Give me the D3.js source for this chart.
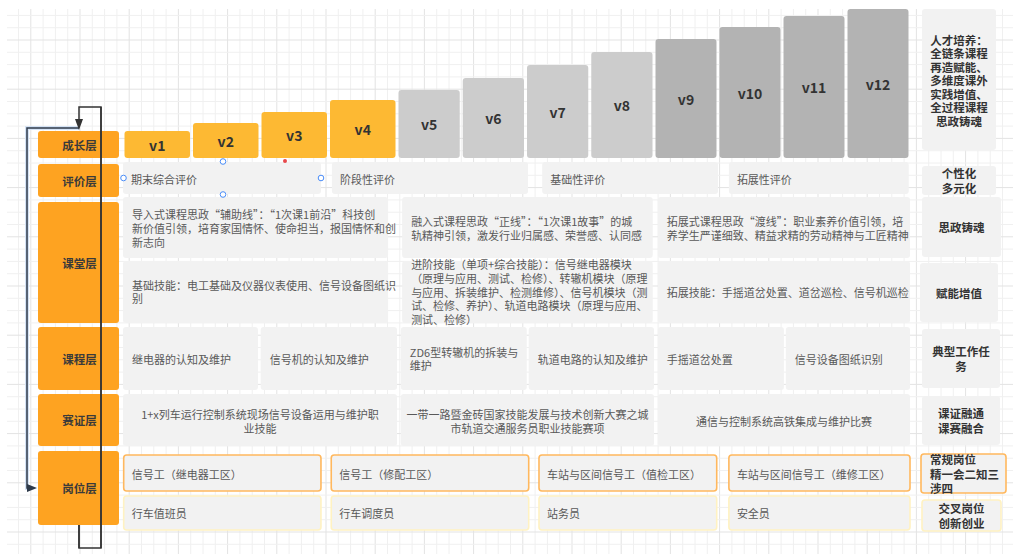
<!DOCTYPE html>
<html><head><meta charset="utf-8">
<script src="https://cdn.jsdelivr.net/npm/d3@7"></script>
<style>html,body{margin:0;padding:0;background:#fff;overflow:hidden}</style>
</head><body><svg id="c" width="1017" height="554"></svg>
<script>
// ---------------- data ----------------
const layerNames = ["成长层","评价层","课堂层","课程层","赛证层","岗位层"];
const growthLabels = ["v1","v2","v3","v4","v5","v6","v7","v8","v9","v10","v11","v12"];
const growthLevels = [27,35,46,58,68,80,93,106,119,131,142,149];
const growthTiers = [0,0,0,0,1,1,1,1,2,2,2,2];
const evaluationTexts = ["期末综合评价","阶段性评价","基础性评价","拓展性评价"];
const ideologyTexts = [
  "导入式课程思政“辅助线”：“1次课1前沿”科技创\n新价值引领，培育家国情怀、使命担当，报国情怀和创\n新志向",
  "融入式课程思政“正线”：“1次课1故事”的城\n轨精神引领，激发行业归属感、荣誉感、认同感",
  "拓展式课程思政“渡线”：职业素养价值引领，培\n养学生严谨细致、精益求精的劳动精神与工匠精神"
];
const skillTexts = [
  "基础技能：电工基础及仪器仪表使用、信号设备图纸识\n别",
  "进阶技能（单项+综合技能）：信号继电器模块\n（原理与应用、测试、检修）、转辙机模块（原理\n与应用、拆装维护、检测维修）、信号机模块（测\n试、检修、养护）、轨道电路模块（原理与应用、\n测试、检修）",
  "拓展技能：手摇道岔处置、道岔巡检、信号机巡检"
];
const courseTexts = ["继电器的认知及维护","信号机的认知及维护","ZD6型转辙机的拆装与\n维护","轨道电路的认知及维护","手摇道岔处置","信号设备图纸识别"];
const contestTexts = [
  "1+x列车运行控制系统现场信号设备运用与维护职\n业技能",
  "一带一路暨金砖国家技能发展与技术创新大赛之城\n市轨道交通服务员职业技能赛项",
  "通信与控制系统高铁集成与维护比赛"
];
const regularPosts = ["信号工（继电器工区）","信号工（修配工区）","车站与区间信号工（值检工区）","车站与区间信号工（维修工区）"];
const crossPosts = ["行车值班员","行车调度员","站务员","安全员"];
const summaryTexts = [
  "人才培养：\n全链条课程\n再造赋能、\n多维度课外\n实践增值、\n全过程课程\n思政铸魂",
  "个性化\n多元化","思政铸魂","赋能增值","典型工作任\n务","课证融通\n课赛融合","常规岗位\n精一会二知三\n涉四","交叉岗位\n创新创业"
];

// ---------------- layout ----------------
const W = 1017, H = 554;
const FONT = "'Noto Sans CJK SC','Noto Sans',sans-serif";
const col = d3.scaleLinear().domain([0,4,8,12]).range([123,397,654,910]);
const yGrowth = d3.scaleLinear().domain([0,149]).range([158,9]);
const layerRows = [[131,158],[164,197],[202,323],[327,390],[394,446],[451,525]];
const labelCol = [38,119];
const evalSpans = [[0,2.89],[3.05,6.04],[6.26,9.0],[9.17,11.98]];
const ideologySpans = [[0,3.87],[4.08,7.98],[8.06,12]];
const courseSpans = [[0,1.97],[2.01,4],[4.06,6.02],[6.05,8],[8.06,10.03],[10.06,12]];
const contestSpans = [[0,4],[4.06,8],[8.06,12]];
const postSpans = [[0.01,2.89],[3.04,6.05],[6.21,8.98],[9.17,12]];
const summaryBoxes = [[922,996,9,150],[922,996,166,195],[922,1001,197,257],[920,998,263,322],[922,1000,329,388],[922,1000,396,445],[921,1006,454,493],[922,1001,500,531]];
const tierFill = ["#FDB933","#CCCCCC","#B3B3B3"];

const svg = d3.select("#c");

// grid
const grid = svg.append("g");
const gx0 = 7, gx1 = 1013, gy0 = 9, gy1 = 554, step = 12.3;
const xs = d3.range(0, 90).map(k => 6.2 + step*k).filter(v => v >= gx0 && v <= gx1);
const ys = d3.range(-4, 50).map(k => 40 + step*k).filter(v => v >= gy0 && v <= gy1);
grid.selectAll("line.v").data(xs).join("line")
  .attr("x1", d => d).attr("x2", d => d).attr("y1", gy0).attr("y2", gy1)
  .attr("stroke", (d,i) => Math.round((d-80)/step) % 4 === 0 ? "#e3e3e3" : "#f0f0f0").attr("stroke-width", 1);
grid.selectAll("line.h").data(ys).join("line")
  .attr("y1", d => d).attr("y2", d => d).attr("x1", gx0).attr("x2", gx1)
  .attr("stroke", d => Math.round((d-40)/step) % 4 === 0 ? "#e3e3e3" : "#f0f0f0").attr("stroke-width", 1);

function rect(g, x0, x1, y0, y1, fill, stroke, sw){
  g.append("rect").attr("x", x0).attr("y", y0).attr("width", x1-x0).attr("height", y1-y0)
   .attr("rx", 3).attr("fill", fill).attr("stroke", stroke || "none").attr("stroke-width", sw || 0);
}
function text(g, str, x, yc, opt){
  const lines = str.split("\n");
  const lh = opt.lh || 13.8;
  const t = g.append("text").attr("font-family", FONT).attr("font-size", opt.size || 11)
    .attr("font-weight", opt.weight || "normal").attr("fill", opt.color || "#595959")
    .attr("text-anchor", opt.anchor || "start");
  lines.forEach((l, i) => {
    t.append("tspan").attr("x", x).attr("y", yc + (i - (lines.length-1)/2) * lh)
     .attr("dominant-baseline", "central").text(l);
  });
}

const g = svg.append("g");

// connectors (drawn under boxes)
const conn = svg.append("g");
conn.append("path").attr("d", "M29,488 L27,488 L27,128 L79,128").attr("fill", "none")
  .attr("stroke", "#d5e3f5").attr("stroke-width", 4);
conn.append("path").attr("d", "M29,488 L27,488 L27,128 L79,128").attr("fill", "none")
  .attr("stroke", "#2e3a4a").attr("stroke-width", 1.5);
conn.append("path").attr("d", "M27,484 L37,488 L27,492 Z").attr("fill", "#2e3a4a");
conn.append("path").attr("d", "M79,525 L79,548 L101,548 L101,107 L79,107 L79,121").attr("fill", "none")
  .attr("stroke", "#333", ).attr("stroke-width", 1.5);
conn.append("path").attr("d", "M75,119 L79,130 L83,119 Z").attr("fill", "#333");

// layer labels
layerNames.forEach((n, i) => {
  rect(g, labelCol[0], labelCol[1], layerRows[i][0], layerRows[i][1], "#FEA321");
  text(g, n, (labelCol[0]+labelCol[1])/2 + 1, (layerRows[i][0]+layerRows[i][1])/2, {anchor:"middle", size:11.5, weight:"bold", color:"#3a3a3a"});
});
// redraw connector line over labels (vertical one passes over labels)
svg.append("path").attr("d", "M101,107 L101,548").attr("stroke", "#333").attr("stroke-width", 1.5);
svg.append("path").attr("d", "M79,525 L79,548").attr("stroke", "#333").attr("stroke-width", 1.5);

// growth steps
growthLabels.forEach((lab, i) => {
  const x0 = col(i) + 1.5, x1 = col(i+1) - 1.5, y0 = yGrowth(growthLevels[i]), y1 = yGrowth(0);
  rect(g, x0, x1, y0, y1, tierFill[growthTiers[i]]);
  text(g, lab, (x0+x1)/2, (y0+y1)/2, {anchor:"middle", size:14, weight:"bold", color:"#333"});
});

// evaluation
evaluationTexts.forEach((t, i) => {
  const [a,b] = evalSpans[i];
  rect(g, col(a), col(b), 162, 194, "#F2F2F2");
  text(g, t, col(a)+8, 178.5, {});
});
// classroom
ideologyTexts.forEach((t, i) => {
  const [a,b] = ideologySpans[i];
  rect(g, col(a), col(b), 197, 258, "#F2F2F2");
  text(g, t, col(a)+9, 228, {});
});
skillTexts.forEach((t, i) => {
  const [a,b] = ideologySpans[i];
  rect(g, col(a), col(b), 261, 323, "#F2F2F2");
  text(g, t, col(a)+9, 291.5, {});
});
// course
courseTexts.forEach((t, i) => {
  const [a,b] = courseSpans[i];
  rect(g, col(a), col(b), 327, 390, "#F2F2F2");
  text(g, t, col(a)+9, 358.5, {lh:13});
});
// contest
contestTexts.forEach((t, i) => {
  const [a,b] = contestSpans[i];
  rect(g, col(a), col(b), 394, 446, "#F2F2F2");
  text(g, t, (col(a)+col(b))/2, 421, {anchor:"middle"});
});
// posts
regularPosts.forEach((t, i) => {
  const [a,b] = postSpans[i];
  rect(g, col(a), col(b), 455, 491, "#F2F2F2", "#FFB85E", 1.6);
  text(g, t, col(a)+8, 473.5, {});
});
crossPosts.forEach((t, i) => {
  const [a,b] = postSpans[i];
  rect(g, col(a), col(b), 496, 530, "#F2F2F2", "#FFF2C2", 1.6);
  text(g, t, col(a)+8, 513, {});
});
// summary column
summaryTexts.forEach((t, i) => {
  const [x0,x1,y0,y1] = summaryBoxes[i];
  const stroke = i === 6 ? "#FFB85E" : (i === 7 ? "#FFF2C2" : null);
  rect(g, x0, x1, y0, y1, "#F2F2F2", stroke, stroke ? 1.6 : 0);
  if (i === 6) text(g, t, x0 + 9, (y0+y1)/2, {size:11.5, weight:"bold", color:"#333", lh:14.5});
  else text(g, t, (x0+x1)/2, (y0+y1)/2 + (i===0 ? 0.5 : 0), {anchor:"middle", size:11.5, weight:"bold", color:"#333", lh: i===0 ? 13.5 : 14.5});
});

// editor selection handles
const hs = svg.append("g");
[[123.5,178],[321,178],[223,161.5],[223,194.5]].forEach(p => {
  hs.append("circle").attr("cx", p[0]).attr("cy", p[1]).attr("r", 2.8)
    .attr("fill", "#fff").attr("stroke", "#4a8df8").attr("stroke-width", 1);
});
hs.append("circle").attr("cx", 285).attr("cy", 161).attr("r", 2).attr("fill", "#e8484c");
</script></body></html>
